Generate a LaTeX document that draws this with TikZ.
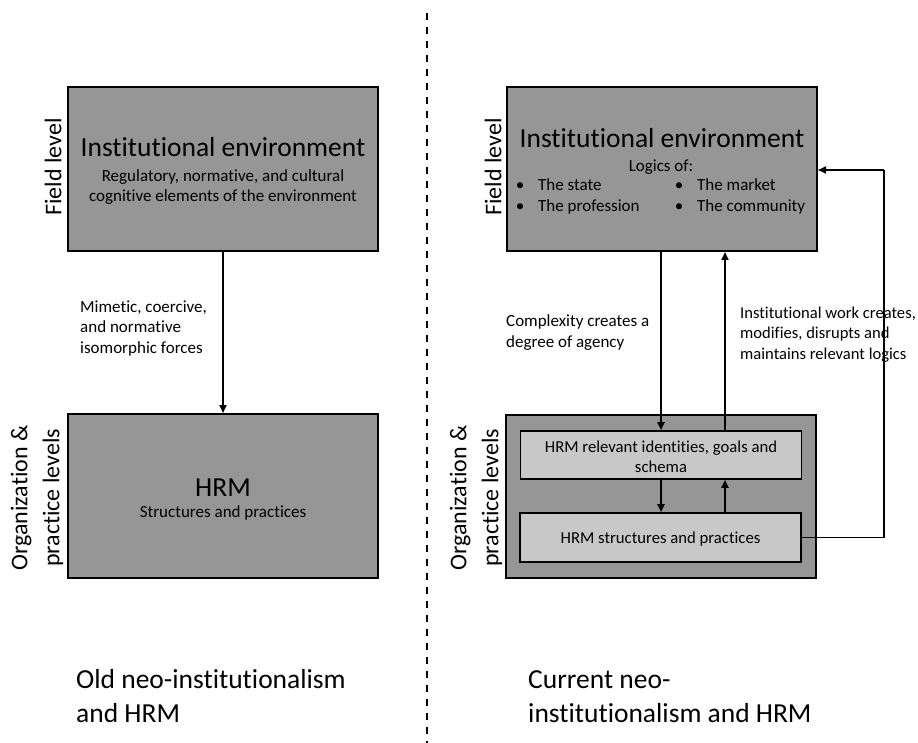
\documentclass[tikz,border=0pt]{standalone}
\usepackage{fontspec}
\setmainfont{Carlito}[Ligatures=NoCommon]
\usetikzlibrary{arrows.meta}
\definecolor{boxgray}{RGB}{150,150,150}
\definecolor{innergray}{RGB}{200,200,200}
\newcommand\fsz[2]{\fontsize{#1}{#2}\selectfont}
\tikzset{
  levelbox/.style={draw=black, line width=2, fill=boxgray, inner sep=0,
    minimum width=310, minimum height=164},
  innerbox/.style={draw=black, line width=1.6, fill=innergray, inner sep=0,
    minimum width=281, minimum height=48},
  arr/.style={line width=1.8, -{Triangle[length=8,width=7]}},
  link/.style={line width=1.8},
  divider/.style={line width=2, dash pattern=on 7 off 7},
  bigtext/.style={inner sep=0, font=\fsz{27.5}{34}},
  smalltext/.style={inner sep=0, font=\fsz{17}{20.5}},
  sidelabel/.style={inner sep=0, rotate=90, align=center, font=\fsz{24}{32}},
}
\begin{document}
\begin{tikzpicture}[x=1pt, y=-1pt]
\useasboundingbox (0,0) rectangle (918,743);

% column divider
\coordinate (dtop) at (427,13);
\coordinate (dbot) at (427,743);
\draw[divider] (dtop) -- (dbot);

% ---------- left column: old neo-institutionalism ----------
% (multi-line text nodes are anchored at the baseline of their last line)
\node[levelbox] (lt) at (223,169) {};
\node[levelbox] (lb) at (223,496) {};
\node[bigtext, anchor=base] (lttitle) at (223,157) {Institutional environment};
\node[smalltext, anchor=base, align=center] (ltsub) at (223,202)
  {Regulatory, normative, and cultural\\cognitive elements of the environment};
\node[bigtext, anchor=base] (lbtitle) at (223,496) {HRM};
\node[smalltext, anchor=base] (lbsub) at (223,517) {Structures and practices};

\node[sidelabel] (lfield) at (53,167) {Field level};
\node[sidelabel] (lorg) at (37,498) {Organization \&\\practice levels};

\draw[arr] (lt.south) -- (lb.north);
\node[smalltext, anchor=base west, align=left] (mim) at (80,353)
  {Mimetic, coercive,\\and normative\\isomorphic forces};

\node[bigtext, anchor=base west, align=left] (oldtitle) at (76,722)
  {Old neo-institutionalism\\and HRM};

% ---------- right column: current neo-institutionalism ----------
\node[levelbox] (rt) at (662,169) {};
\node[levelbox, minimum height=163] (rb) at (661,496.5) {};
\node[innerbox] (in1) at (661,455) {};
\node[innerbox, minimum height=49] (in2) at (660.5,537.5) {};

\node[bigtext, anchor=base] (rttitle) at (662,148) {Institutional environment};
\node[smalltext, anchor=base] (logics) at (661,172) {Logics of:};
\node[smalltext, anchor=base] (b1) at (520,191) {\textbullet};
\node[smalltext, anchor=base west] (l1) at (538,191) {The state};
\node[smalltext, anchor=base] (b2) at (520,212) {\textbullet};
\node[smalltext, anchor=base west] (l2) at (538,212) {The profession};
\node[smalltext, anchor=base] (b3) at (679,191) {\textbullet};
\node[smalltext, anchor=base west] (l3) at (697,191) {The market};
\node[smalltext, anchor=base] (b4) at (679,212) {\textbullet};
\node[smalltext, anchor=base west] (l4) at (697,212) {The community};

\node[smalltext, anchor=base, align=center, font=\fsz{16.7}{20}] (in1text) at (661,472)
  {HRM relevant identities, goals and\\schema};
\node[smalltext, anchor=base, font=\fsz{16.7}{20}] (in2text) at (660.5,543)
  {HRM structures and practices};

\node[sidelabel] (rfield) at (493,167) {Field level};
\node[sidelabel] (rorg) at (476,498) {Organization \&\\practice levels};

% field level <-> organization level
\draw[arr] (rt.south -| in1.north) -- (in1.north);
\draw[arr] ([xshift=64]in1.north) -- ([xshift=64]in1.north |- rt.south);
\draw[arr] (in1.south) -- (in1.south |- in2.north);
\draw[arr] ([xshift=64]in1.south |- in2.north) -- ([xshift=64]in1.south);

% feedback loop from practices to the environment
\coordinate (fb) at (884,170);
\draw[link] (in2.east) -| (fb);
\draw[arr] (fb) -- (fb -| rt.east);

\node[smalltext, anchor=base west, align=left] (cplx) at (506,347)
  {Complexity creates a\\degree of agency};
\node[smalltext, anchor=base west, align=left, font=\fsz{16.6}{20.5}] (iwork) at (740,359)
  {Institutional work creates,\\modifies, disrupts and\\maintains relevant logics};

\node[bigtext, anchor=base west, align=left] (curtitle) at (528,722)
  {Current neo-\\institutionalism and HRM};
\end{tikzpicture}
\end{document}
